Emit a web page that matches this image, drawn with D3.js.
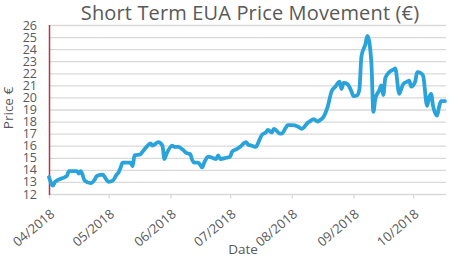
<!DOCTYPE html>
<html>
<head>
<meta charset="utf-8">
<script src="https://cdnjs.cloudflare.com/ajax/libs/d3/7.8.5/d3.min.js"></script>
<style>
  body { margin: 0; background: #fff; }
  text { font-family: "Open Sans", "Noto Sans", sans-serif; fill: #595959; }
</style>
</head>
<body>
<div id="chart"></div>
<script>
// values
var dates = [
  '2018-04-01','2018-04-03','2018-04-04','2018-04-09','2018-04-10','2018-04-11','2018-04-13',
  '2018-04-15','2018-04-16','2018-04-17','2018-04-19','2018-04-22','2018-04-24','2018-04-25',
  '2018-04-28','2018-04-29','2018-05-01','2018-05-03','2018-05-05','2018-05-06','2018-05-07',
  '2018-05-08','2018-05-12','2018-05-13','2018-05-14','2018-05-17','2018-05-18','2018-05-20',
  '2018-05-22','2018-05-23','2018-05-24','2018-05-26','2018-05-28','2018-05-29','2018-05-30',
  '2018-06-02','2018-06-03','2018-06-05','2018-06-07','2018-06-09','2018-06-11','2018-06-12',
  '2018-06-13','2018-06-15','2018-06-17','2018-06-18','2018-06-20','2018-06-22','2018-06-24',
  '2018-06-25','2018-06-26','2018-06-29','2018-07-01','2018-07-02','2018-07-04','2018-07-06',
  '2018-07-09','2018-07-10','2018-07-12','2018-07-14','2018-07-15','2018-07-17','2018-07-19',
  '2018-07-20','2018-07-22','2018-07-23','2018-07-24','2018-07-26','2018-07-27','2018-07-29',
  '2018-07-30','2018-08-01','2018-08-04','2018-08-06','2018-08-07','2018-08-09','2018-08-10',
  '2018-08-12','2018-08-14','2018-08-15','2018-08-17','2018-08-19','2018-08-21','2018-08-23',
  '2018-08-25','2018-08-26','2018-08-27','2018-08-29','2018-08-31','2018-09-01','2018-09-03',
  '2018-09-04','2018-09-05','2018-09-07','2018-09-08','2018-09-10','2018-09-11','2018-09-12',
  '2018-09-14','2018-09-15','2018-09-16','2018-09-17','2018-09-19','2018-09-21','2018-09-22',
  '2018-09-24','2018-09-25','2018-09-26','2018-09-28','2018-09-29','2018-09-30','2018-10-02',
  '2018-10-03','2018-10-05','2018-10-06','2018-10-08','2018-10-09','2018-10-10','2018-10-11',
  '2018-10-13','2018-10-14','2018-10-15','2018-10-17'
];
var prices = [
  13.4,12.7,13.0,13.4,13.5,13.9,13.9,
  13.9,13.7,13.9,13.1,12.9,13.2,13.5,
  13.6,13.4,13.0,13.1,13.6,13.8,14.2,
  14.6,14.6,14.3,15.2,15.3,15.5,15.9,
  16.2,16.0,16.1,16.3,16.0,14.9,15.3,
  16.0,15.9,15.9,15.7,15.4,15.3,14.8,
  14.6,14.6,14.2,14.6,15.1,15.0,14.9,
  15.2,14.9,15.0,15.1,15.5,15.7,15.9,
  16.3,16.1,16.0,15.9,16.2,16.9,17.1,
  17.3,17.1,17.4,17.3,17.0,17.0,17.5,
  17.7,17.7,17.6,17.4,17.5,17.9,18.0,
  18.2,18.0,18.1,18.4,19.2,20.5,20.9,
  21.3,20.7,21.2,21.1,20.5,20.1,20.2,
  20.7,23.4,24.4,25.1,22.9,18.8,19.9,
  20.6,21.0,20.2,21.6,22.1,22.3,22.4,
  20.3,20.7,21.1,21.3,21.4,20.9,21.3,
  22.1,22.0,21.8,19.3,20.0,20.3,19.3,
  18.5,19.2,19.7,19.7
];
var monthTicks = ['2018-04-01','2018-05-01','2018-06-01','2018-07-01','2018-08-01','2018-09-01','2018-10-01'];
var yTicks = d3.range(12, 27);

var width = 474, height = 257;
var margin = {top: 25, right: 28, bottom: 63, left: 49};
var parse = d3.timeParse('%Y-%m-%d');
var fmt = d3.timeFormat('%m/%Y');

var data = dates.map(function(d, i){ return {date: parse(d), value: prices[i]}; });

var svg = d3.select('#chart').append('svg')
    .attr('width', width)
    .attr('height', height);

var x = d3.scaleTime()
    .domain([parse('2018-04-01'), new Date(2018, 9, 17, 12)])
    .range([margin.left, width - margin.right]);
var y = d3.scaleLinear()
    .domain([12, 26])
    .range([height - margin.bottom, margin.top]);

// grid lines
svg.append('g')
    .selectAll('line')
    .data(yTicks)
    .enter()
    .append('line')
    .attr('x1', margin.left)
    .attr('x2', width - margin.right)
    .attr('y1', function(d){ return y(d) + 0.5; })
    .attr('y2', function(d){ return y(d) + 0.5; })
    .attr('stroke', '#d9d9d9')
    .attr('stroke-width', 1.3);

// y axis labels
var yAxis = svg.append('g')
    .attr('transform', 'translate(' + margin.left + ',0)')
    .call(d3.axisLeft(y).tickValues(yTicks).tickSize(0).tickPadding(12).tickFormat(d3.format('d')));
yAxis.select('.domain').remove();
yAxis.selectAll('text').style('font-size', '12.5px').attr('fill', '#595959');

// x axis
var xAxis = svg.append('g')
    .attr('transform', 'translate(0,' + (height - margin.bottom + 0.5) + ')')
    .call(d3.axisBottom(x).tickValues(monthTicks.map(parse)).tickSize(4).tickFormat(fmt));
xAxis.select('.domain').remove();
xAxis.selectAll('line').attr('stroke', '#d9d9d9').attr('stroke-width', 1.3);
xAxis.selectAll('text')
    .style('font-size', '13px')
    .attr('fill', '#595959')
    .style('text-anchor', 'end')
    .attr('x', 0)
    .attr('y', 0)
    .attr('dy', 0)
    .attr('transform', 'translate(6,21) rotate(-40)');

// left axis line
svg.append('line')
    .attr('x1', margin.left + 0.5)
    .attr('x2', margin.left + 0.5)
    .attr('y1', y(26))
    .attr('y2', y(12) + 1)
    .attr('stroke', '#b8334f')
    .attr('stroke-width', 1.5);

// price line
var line = d3.line()
    .x(function(d){ return x(d.date); })
    .y(function(d){ return y(d.value); })
    .curve(d3.curveMonotoneX);

svg.append('path')
    .datum(data)
    .attr('d', line)
    .attr('fill', 'none')
    .attr('stroke', '#29a3da')
    .attr('stroke-width', 3.8)
    .attr('stroke-linejoin', 'round')
    .attr('stroke-linecap', 'round');

// titles
svg.append('text')
    .attr('x', 250)
    .attr('y', 20)
    .attr('text-anchor', 'middle')
    .style('font-size', '20px')
    .style('letter-spacing', '0.15px')
    .text('Short Term EUA Price Movement (€)');

svg.append('text')
    .attr('x', 243)
    .attr('y', 254)
    .attr('text-anchor', 'middle')
    .style('font-size', '13.5px')
    .text('Date');

svg.append('text')
    .attr('transform', 'translate(13,108) rotate(-90)')
    .attr('text-anchor', 'middle')
    .style('font-size', '13.5px')
    .text('Price €');
</script>
</body>
</html>
